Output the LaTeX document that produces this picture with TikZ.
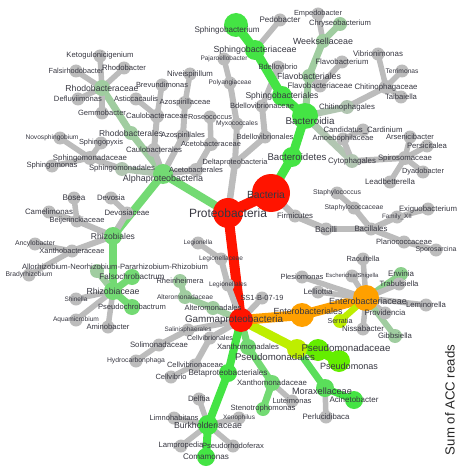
\documentclass[tikz,border=0pt]{standalone}
\usepackage{fontspec}
\setmainfont{Liberation Sans}
\pgfdeclarelayer{edges}
\pgfdeclarelayer{labels}
\pgfsetlayers{edges,main,labels}
\definecolor{cgray}{RGB}{188,188,188}
\definecolor{cgl}{RGB}{178,198,178}
\definecolor{cgg}{RGB}{160,205,160}
\definecolor{cgg2}{RGB}{140,208,140}
\definecolor{cmid}{RGB}{115,218,115}
\definecolor{cmid2}{RGB}{90,222,90}
\definecolor{cbright}{RGB}{68,228,68}
\definecolor{clime}{RGB}{100,238,0}
\definecolor{cyg}{RGB}{190,238,0}
\definecolor{corange}{RGB}{255,160,0}
\definecolor{cred}{RGB}{255,20,0}
\definecolor{ctext}{RGB}{55,55,65}
\tikzset{
  tn/.style={circle,inner sep=0pt,draw=none},
  lbl/.style={inner sep=0pt,text=ctext},
}
\newcommand\T[8][]{%
  \node[tn,fill=#6,minimum size={2*#5}] (#2) at (#3,#4) {};
  \begin{pgfonlayer}{labels}\node[lbl,#1] (#2l) at (#2) {\resizebox{#7pt}{!}{#8}};\end{pgfonlayer}}
\newcommand\E[4]{\begin{pgfonlayer}{edges}\draw[line width=#3pt,#4] (#1.center) -- (#2.center);\end{pgfonlayer}}
\begin{document}
\begin{tikzpicture}[x=1pt,y=-1pt]
\path[use as bounding box] (0,0) rectangle (456,468);
% phyla
\T[xshift=-5,yshift=-2]{bac}{271}{193}{19}{cred}{38}{Bacteria}
\T{prot}{228}{213}{15}{cred}{78}{Proteobacteria}
\T[xshift=-7]{gam}{241}{320}{12}{cred}{98}{Gammaproteobacteria}
\T[yshift=-5]{alp}{163}{174}{10}{cmid}{80}{Alphaproteobacteria}
\T{del}{235}{163}{6.5}{cgray}{65}{Deltaproteobacteria}
\T{fir}{295}{216}{6.5}{cgray}{36}{Firmicutes}
\T[xshift=5]{bct}{292}{157}{10}{cbright}{59}{Bacteroidetes}
\T[xshift=5,yshift=-5]{bcd}{305}{116}{13}{cbright}{49}{Bacteroidia}
% alpha
\T{rhb}{131}{133}{7}{cgg}{64}{Rhodobacterales}
\T{rhbc}{102}{88}{8}{cgg}{73}{Rhodobacteraceae}
\T{keto}{100}{56}{6.5}{cgray}{67}{Ketogulonicigenium}
\T{fals}{76}{71}{6.5}{cgray}{55}{Falsirhodobacter}
\T{rhod}{124}{68}{6.5}{cgray}{44}{Rhodobacter}
\T{defl}{78}{99}{6.5}{cgray}{48}{Defluviimonas}
\T{gemm}{102}{113}{6.5}{cgray}{48}{Gemmobacter}
\T{sphm}{122}{169}{7}{cgl}{66}{Sphingomonadales}
\T{sphc}{90}{158}{7}{cgray}{74}{Sphingomonadaceae}
\T[xshift=-8]{novo}{60}{138}{6.5}{cgray}{53}{Novosphingobium}
\T{spyx}{101}{143}{6.5}{cgray}{44}{Sphingopyxis}
\T{sphs}{52}{166}{6.5}{cgray}{51}{Sphingomonas}
\T{caul}{154}{150}{7}{cgray}{56}{Caulobacterales}
\T{caulc}{157}{116}{7}{cgray}{62}{Caulobacteraceae}
\T{brev}{162}{85}{6.5}{cgray}{52}{Brevundimonas}
\T{asti}{136}{99}{6.5}{cgray}{44}{Asticcacaulis}
\T{azos}{183}{136}{7}{cgray}{44}{Azospirillales}
\T{azoc}{185}{103}{7}{cgray}{51}{Azospirillaceae}
\T{nive}{190}{74}{6.5}{cgray}{46}{Niveispirillum}
\T{acet}{196}{170}{7}{cgray}{54}{Acetobacterales}
\T{acec}{211}{144}{7}{cgray}{60}{Acetobacteraceae}
\T{rose}{210}{117}{6.5}{cgray}{44}{Roseococcus}
\T{rhiz}{113}{236}{9}{cmid}{44}{Rhizobiales}
\T{devc}{127}{213}{6.5}{cgray}{45}{Devosiaceae}
\T{devo}{111}{198}{6.5}{cgray}{28}{Devosia}
\T{beic}{77}{221}{6.5}{cgray}{55}{Beijerinckiaceae}
\T{bose}{74}{198}{6.5}{cgray}{23}{Bosea}
\T{came}{49}{212}{6.5}{cgray}{48}{Camelimonas}
\T{xanc}{72}{251}{6.5}{cgray}{65}{Xanthobacteraceae}
\T{ancy}{35}{244}{6.5}{cgray}{40}{Ancylobacter}
\T{brad}{29}{275}{6.5}{cgray}{47}{Bradyrhizobium}
\T{rhic}{113}{291}{9}{cmid}{53}{Rhizobiaceae}
\T[xshift=18,yshift=4]{allo}{97}{271}{7}{cgg}{186}{Allorhizobium-Neorhizobium-Pararhizobium-Rhizobium}
\T{faso}{132}{277}{8}{cmid}{65}{Falsochrobactrum}
\T{shin}{76}{299}{6.5}{cgray}{23}{Shinella}
\T{pseo}{132}{307}{8}{cmid}{68}{Pseudochrobactrum}
\T{aqua}{76}{320}{6.5}{cgray}{46}{Aquamicrobium}
\T{amin}{108}{327}{6.5}{cgray}{43}{Aminobacter}
% delta
\T{bdvo}{265}{137}{6.5}{cgray}{57}{Bdellovibrionales}
\T{bdvc}{262}{106}{6.5}{cgray}{64}{Bdellovibrionaceae}
\T{bdv}{278}{67}{6.5}{cgray}{39}{Bdellovibrio}
\T{myxo}{237}{124}{6.5}{cgray}{42}{Myxococcales}
\T{poly}{230}{83}{6.5}{cgray}{43}{Polyangiaceae}
\T{paja}{224}{59}{6.5}{cgray}{47}{Pajaroellobacter}
% gamma
\T{legi}{228}{285}{6.5}{cgray}{38}{Legionellales}
\T{legc}{221}{259}{6.5}{cgray}{44}{Legionellaceae}
\T{legg}{198}{243}{6.5}{cgray}{29}{Legionella}
\T{alto}{213}{308}{7}{cgg}{57}{Alteromonadales}
\T{altc}{185}{297}{7}{cgg}{56}{Alteromonadaceae}
\T{rhei}{180}{281}{7}{cgg}{47}{Rheinheimera}
\T{ss1}{262}{298}{6.5}{cgray}{43}{SS1-B-07-19}
\T{sali}{188}{330}{6.5}{cgray}{47}{Salinisphaerales}
\T{soli}{159}{345}{6.5}{cgray}{58}{Solimonadaceae}
\T{hydr}{136}{361}{6.5}{cgray}{58}{Hydrocarbonphaga}
\T{celo}{210}{338}{6.5}{cgray}{46}{Cellvibrionales}
\T{celc}{195}{365}{6.5}{cgray}{56}{Cellvibrionaceae}
\T{celv}{171}{377}{6.5}{cgray}{31}{Cellvibrio}
\T{xano}{248}{347}{8}{cmid}{62}{Xanthomonadales}
\T{xanm}{272}{383}{8}{cmid}{70}{Xanthomonadaceae}
\T{lute}{292}{401}{6.5}{cgray}{39}{Luteimonas}
\T{sten}{263}{409}{7}{cmid}{65}{Stenotrophomonas}
\T{beta}{228}{373}{9}{cbright}{79}{Betaproteobacteriales}
\T{burk}{208}{425}{10}{cbright}{68}{Burkholderiaceae}
\T{delf}{199}{399}{6.5}{cgray}{22}{Delftia}
\T{limn}{174}{418}{6.5}{cgray}{49}{Limnohabitans}
\T{xeno}{239}{418}{6.5}{cgray}{32}{Xenophilus}
\T{lamp}{181}{446}{6.5}{cgray}{45}{Lampropedia}
\T{psrh}{233}{446}{6.5}{cgray}{62}{Pseudorhodoferax}
\T{coma}{206}{457}{9}{cbright}{46}{Comamonas}
\T[xshift=-22,yshift=-8]{psmo}{297}{349}{10}{cyg}{80}{Pseudomonadales}
\T[xshift=28,yshift=2]{psmc}{318}{350}{11}{clime}{89}{Pseudomonadaceae}
\T[xshift=10,yshift=-5]{psms}{339}{361}{11}{clime}{58}{Pseudomonas}
\T[xshift=-3,yshift=-3]{morc}{325}{388}{9}{cmid2}{60}{Moraxellaceae}
\T{acin}{354}{400}{9}{cbright}{49}{Acinetobacter}
\T{perl}{326}{417}{6.5}{cgray}{47}{Perlucidibaca}
\T[xshift=6,yshift=4]{ento}{302}{315}{12}{corange}{69}{Enterobacteriales}
\T[xshift=2,yshift=-3]{entc}{366}{298}{13}{corange}{78}{Enterobacteriaceae}
\T{raou}{363}{259}{6.5}{cgray}{33}{Raoultella}
\T{ples}{302}{277}{6.5}{cgray}{43}{Plesiomonas}
\T{esch}{352}{276}{6.5}{cgray}{53}{Escherichia/Shigella}
\T{lell}{318}{292}{6.5}{cgray}{29}{Lelliottia}
\T{erwi}{401}{274}{7}{cgg2}{26}{Erwinia}
\T{trab}{399}{284}{6.5}{cgray}{39}{Trabulsiella}
\T{lemi}{426}{305}{6.5}{cgray}{40}{Leminorella}
\T{prov}{385}{313}{6.5}{cgray}{41}{Providencia}
\T{serr}{340}{321}{7}{cyg}{25}{Serratia}
\T{niss}{363}{329}{6.5}{cgray}{42}{Nissabacter}
\T{gibb}{395}{336}{7}{cgg}{34}{Gibbsiella}
% bacteroidia
\T{sbal}{282}{96}{10}{cbright}{73}{Sphingobacteriales}
\T{sbac}{255}{50}{10}{cbright}{83}{Sphingobacteriaceae}
\T[xshift=-9,yshift=-5]{sbm}{236}{25}{12}{cbright}{65}{Sphingobacterium}
\T{pedo}{280}{20}{6.5}{cgray}{41}{Pedobacter}
\T{flvo}{309}{76}{7}{cgg}{64}{Flavobacteriales}
\T{week}{323}{41}{7}{cgg}{60}{Weeksellaceae}
\T{empe}{318}{14}{6.5}{cgray}{48}{Empedobacter}
\T{chry}{340}{24}{7}{cgg}{62}{Chryseobacterium}
\T{flvc}{320}{86}{6.5}{cgray}{65}{Flavobacteriaceae}
\T{flvm}{342}{62}{6.5}{cgray}{53}{Flavobacterium}
\T{chio}{347}{107}{7}{cgl}{56}{Chitinophagales}
\T{chic}{386}{87}{7}{cgray}{63}{Chitinophagaceae}
\T{vibr}{378}{54}{6.5}{cgray}{50}{Vibrionimonas}
\T{terr}{402}{71}{6.5}{cgray}{33}{Terrimonas}
\T{taib}{401}{97}{6.5}{cgray}{32}{Taibaiella}
\T{cyto}{352}{161}{7}{cgl}{48}{Cytophagales}
\T{amoe}{343}{139}{6.5}{cgray}{61}{Amoebophilaceae}
\T{cand}{363}{130}{6.5}{cgray}{79}{Candidatus\_Cardinium}
\T{spir}{405}{158}{7}{cgray}{54}{Spirosomaceae}
\T{arse}{410}{137}{6.5}{cgray}{48}{Arsenicibacter}
\T{pers}{427}{146}{6.5}{cgray}{40}{Persicitalea}
\T{dyad}{423}{172}{6.5}{cgray}{42}{Dyadobacter}
\T{lead}{390}{182}{6.5}{cgray}{50}{Leadbetterella}
% firmicutes
\T{bacl}{326}{229}{6.5}{cgray}{22}{Bacilli}
\T{bcll}{371}{229}{6.5}{cgray}{33}{Bacillales}
\T{stac}{354}{208}{6.5}{cgray}{59}{Staphylococcaceae}
\T{stap}{337}{193}{6.5}{cgray}{48}{Staphylococcus}
\T{fam}{397}{217}{6.5}{cgray}{30}{Family\_XII}
\T{exig}{428}{209}{6.5}{cgray}{58}{Exiguobacterium}
\T{plac}{404}{242}{6.5}{cgray}{56}{Planococcaceae}
\T{spor}{436}{250}{6.5}{cgray}{41}{Sporosarcina}
% legend
\node[lbl,text=black!85,rotate=90] (legend) at (450,400) {\resizebox{110pt}{!}{Sum of ACC reads}};
% edges
\E{bac}{prot}{11}{cred}\E{prot}{gam}{10}{cred}\E{prot}{alp}{8}{cmid}\E{prot}{del}{6.5}{cgray}
\E{bac}{bct}{9}{cbright}\E{bct}{bcd}{9}{cbright}\E{bac}{fir}{6.5}{cgray}
\E{alp}{rhb}{7}{cgg}\E{rhb}{rhbc}{7}{cgg}
\E{rhbc}{keto}{5.5}{cgray}\E{rhbc}{fals}{5.5}{cgray}\E{rhbc}{rhod}{5.5}{cgray}\E{rhbc}{defl}{5.5}{cgray}\E{rhbc}{gemm}{5.5}{cgray}
\E{alp}{sphm}{6.5}{cgl}\E{sphm}{sphc}{6}{cgray}\E{sphc}{novo}{5.5}{cgray}\E{sphc}{spyx}{5.5}{cgray}\E{sphc}{sphs}{5.5}{cgray}
\E{alp}{caul}{6}{cgray}\E{caul}{caulc}{6}{cgray}\E{caulc}{brev}{5.5}{cgray}\E{caulc}{asti}{5.5}{cgray}
\E{alp}{azos}{6}{cgray}\E{azos}{azoc}{6}{cgray}\E{azoc}{nive}{5.5}{cgray}
\E{alp}{acet}{6}{cgray}\E{acet}{acec}{6}{cgray}\E{acec}{rose}{5.5}{cgray}
\E{alp}{rhiz}{8}{cmid}\E{rhiz}{devc}{6}{cgray}\E{devc}{devo}{5.5}{cgray}
\E{rhiz}{beic}{6}{cgray}\E{beic}{bose}{5.5}{cgray}\E{beic}{came}{5.5}{cgray}
\E{rhiz}{xanc}{6}{cgray}\E{xanc}{ancy}{5.5}{cgray}\E{xanc}{brad}{5.5}{cgray}
\E{rhiz}{rhic}{8}{cmid}\E{rhic}{allo}{6.5}{cgg}\E{rhic}{faso}{7}{cmid}\E{rhic}{shin}{5.5}{cgray}
\E{rhic}{pseo}{7}{cmid}\E{rhic}{aqua}{5.5}{cgray}\E{rhic}{amin}{5.5}{cgray}
\E{del}{bdvo}{6}{cgray}\E{bdvo}{bdvc}{6}{cgray}\E{bdvc}{bdv}{5.5}{cgray}
\E{del}{myxo}{6}{cgray}\E{myxo}{poly}{6}{cgray}\E{poly}{paja}{5.5}{cgray}
\E{gam}{legi}{6}{cgray}\E{legi}{legc}{6}{cgray}\E{legc}{legg}{5.5}{cgray}
\E{gam}{alto}{6.5}{cgg}\E{alto}{altc}{6.5}{cgg}\E{altc}{rhei}{6}{cgg}
\E{gam}{ss1}{6}{cgray}
\E{gam}{sali}{6}{cgray}\E{sali}{soli}{6}{cgray}\E{soli}{hydr}{5.5}{cgray}
\E{gam}{celo}{6}{cgray}\E{celo}{celc}{6}{cgray}\E{celc}{celv}{5.5}{cgray}
\E{gam}{xano}{7}{cmid}\E{xano}{xanm}{7}{cmid}\E{xanm}{lute}{5.5}{cgray}\E{xanm}{sten}{7}{cmid}
\E{gam}{beta}{8}{cbright}\E{beta}{burk}{8}{cbright}
\E{burk}{delf}{5.5}{cgray}\E{burk}{limn}{5.5}{cgray}\E{burk}{xeno}{5.5}{cgray}\E{burk}{lamp}{5.5}{cgray}\E{burk}{psrh}{5.5}{cgray}\E{burk}{coma}{8}{cbright}
\E{gam}{psmo}{9}{cyg}\E{psmo}{psmc}{10}{clime}\E{psmc}{psms}{10}{clime}
\E{psmo}{morc}{7}{cmid2}\E{morc}{acin}{7}{cbright}\E{morc}{perl}{5.5}{cgray}
\E{gam}{ento}{10}{corange}\E{ento}{entc}{10}{corange}
\E{entc}{raou}{5.5}{cgray}\E{entc}{ples}{5.5}{cgray}\E{entc}{esch}{5.5}{cgray}\E{entc}{lell}{5.5}{cgray}
\E{entc}{erwi}{6}{cgg2}\E{entc}{trab}{5.5}{cgray}\E{entc}{lemi}{5.5}{cgray}\E{entc}{prov}{5.5}{cgray}
\E{entc}{serr}{6.5}{cyg}\E{entc}{niss}{5.5}{cgray}\E{entc}{gibb}{6}{cgg}
\E{bcd}{sbal}{9}{cbright}\E{sbal}{sbac}{9}{cbright}\E{sbac}{sbm}{9}{cbright}\E{sbac}{pedo}{5.5}{cgray}
\E{bcd}{flvo}{7}{cgg}\E{flvo}{week}{7}{cgg}\E{week}{empe}{5.5}{cgray}\E{week}{chry}{6.5}{cgg}
\E{flvo}{flvc}{6}{cgray}\E{flvc}{flvm}{5.5}{cgray}
\E{bcd}{chio}{6.5}{cgl}\E{chio}{chic}{6}{cgray}\E{chic}{vibr}{5.5}{cgray}\E{chic}{terr}{5.5}{cgray}\E{chic}{taib}{5.5}{cgray}
\E{bcd}{cyto}{7}{cgl}\E{cyto}{amoe}{6}{cgray}\E{amoe}{cand}{5.5}{cgray}
\E{cyto}{spir}{6}{cgray}\E{spir}{arse}{5.5}{cgray}\E{spir}{pers}{5.5}{cgray}\E{spir}{dyad}{5.5}{cgray}\E{spir}{lead}{5.5}{cgray}
\E{fir}{bacl}{6.5}{cgray}\E{bacl}{bcll}{6.5}{cgray}
\E{bcll}{stac}{6}{cgray}\E{stac}{stap}{5.5}{cgray}
\E{bcll}{fam}{6}{cgray}\E{fam}{exig}{5.5}{cgray}
\E{bcll}{plac}{6}{cgray}\E{plac}{spor}{5.5}{cgray}
\end{tikzpicture}
\end{document}
